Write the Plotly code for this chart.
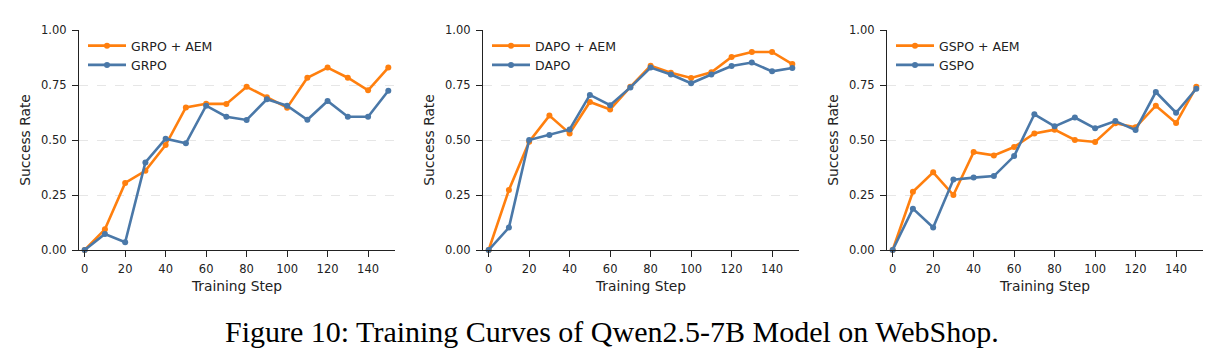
import plotly.graph_objects as go

steps = [0, 10, 20, 30, 40, 50, 60, 70, 80, 90, 100, 110, 120, 130, 140, 150]

grpo_aem = [0.0, 0.094, 0.305, 0.36, 0.477, 0.648, 0.665, 0.664, 0.742, 0.694, 0.647, 0.783, 0.829, 0.783, 0.726, 0.829]
grpo     = [0.0, 0.073, 0.035, 0.398, 0.506, 0.485, 0.656, 0.606, 0.591, 0.685, 0.656, 0.592, 0.677, 0.606, 0.606, 0.724]

dapo_aem = [0.0, 0.273, 0.492, 0.611, 0.530, 0.673, 0.639, 0.742, 0.838, 0.806, 0.782, 0.808, 0.877, 0.900, 0.900, 0.845]
dapo     = [0.0, 0.102, 0.500, 0.523, 0.548, 0.705, 0.658, 0.739, 0.829, 0.798, 0.758, 0.798, 0.836, 0.852, 0.812, 0.827]

gspo_aem = [0.0, 0.265, 0.353, 0.250, 0.445, 0.430, 0.468, 0.530, 0.547, 0.500, 0.491, 0.576, 0.558, 0.656, 0.577, 0.742]
gspo     = [0.0, 0.188, 0.102, 0.320, 0.329, 0.336, 0.427, 0.617, 0.562, 0.602, 0.553, 0.586, 0.545, 0.718, 0.624, 0.733]

panels = [
    ("GRPO + AEM", grpo_aem, "GRPO", grpo),
    ("DAPO + AEM", dapo_aem, "DAPO", dapo),
    ("GSPO + AEM", gspo_aem, "GSPO", gspo),
]

x_ticks = [0, 20, 40, 60, 80, 100, 120, 140]
y_ticks = [0.0, 0.25, 0.5, 0.75, 1.0]
y_tick_text = ["0.00", "0.25", "0.50", "0.75", "1.00"]

caption = "Figure 10: Training Curves of Qwen2.5-7B Model on WebShop."

ORANGE = "#ff7f0e"
BLUE = "#4a78a8"
W, H = 1224, 363

# pixel layout of the panels (left spine, right end)
panel_px = [(79, 395), (483, 799), (887, 1203)]
y_top_px, y_bot_px = 30, 250

fig = go.Figure()

for i, (la, ya, lb, yb) in enumerate(panels):
    n = "" if i == 0 else str(i + 1)
    xa = "x" + n
    ya_ = "y" + n
    leg = "legend" + n
    for name, vals, col in [(la, ya, ORANGE), (lb, yb, BLUE)]:
        fig.add_trace(go.Scatter(
            x=steps, y=vals, name=name, mode="lines+markers",
            line=dict(color=col, width=2.6),
            marker=dict(color=col, size=6),
            xaxis=xa, yaxis=ya_, legend=leg, cliponaxis=False,
        ))
    l, r = panel_px[i]
    axis_common = dict(
        showline=True, linecolor="#222", linewidth=1.1,
        ticks="outside", ticklen=6, tickwidth=1.1, tickcolor="#222",
        tickfont=dict(family="DejaVu Sans", size=11.5, color="#222"),
        zeroline=False, automargin=False,
    )
    fig.layout["xaxis" + n] = dict(
        domain=[l / W, r / W], anchor=ya_, range=[-2.8, 153.3],
        tickvals=x_ticks, showgrid=False, ticklabelstandoff=2,
        title=dict(text="Training Step", font=dict(family="DejaVu Sans", size=13.8, color="#222"), standoff=6),
        **axis_common,
    )
    fig.layout["yaxis" + n] = dict(
        domain=[(H - y_bot_px) / H, (H - y_top_px) / H], anchor=xa, range=[0, 1],
        tickvals=y_ticks, ticktext=y_tick_text, ticklabelstandoff=3,
        showgrid=True, gridcolor="#e6e6e6", gridwidth=0.8, griddash="dash",
        title=dict(text="Success Rate", font=dict(family="DejaVu Sans", size=13.8, color="#222"), standoff=7),
        **axis_common,
    )
    fig.layout[leg] = dict(
        x=(l + 4) / W, y=(H - 31) / H, xanchor="left", yanchor="top",
        bgcolor="rgba(0,0,0,0)", borderwidth=0,
        font=dict(family="DejaVu Sans", size=12.5, color="#222"),
        itemwidth=38, tracegroupgap=0,
    )

fig.add_annotation(
    text=caption, x=0.5, y=(H - 331) / H, xref="paper", yref="paper",
    showarrow=False, xanchor="center", yanchor="middle",
    font=dict(family="Liberation Serif", size=30, color="#000"),
)

fig.update_layout(
    width=W, height=H, margin=dict(l=0, r=0, t=0, b=0, autoexpand=False),
    paper_bgcolor="white", plot_bgcolor="white", showlegend=True,
)

fig.write_html("out.html")
